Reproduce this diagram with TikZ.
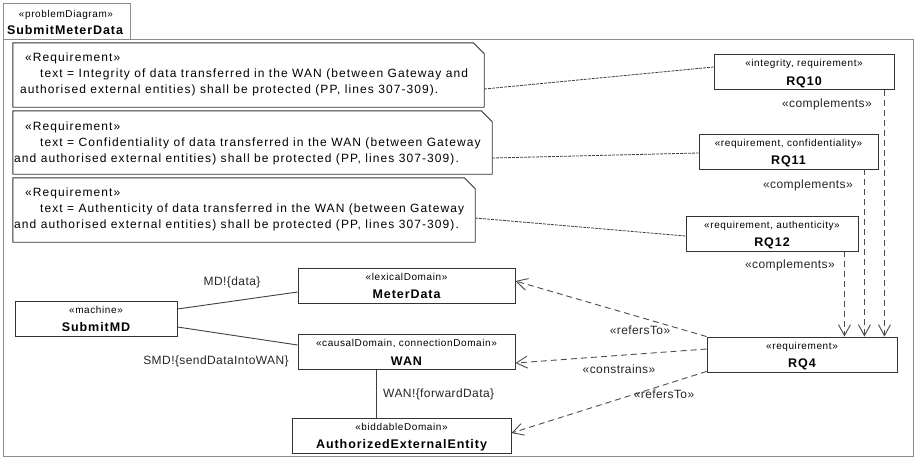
\documentclass[tikz,border=0pt]{standalone}
\usepackage{fontspec}
\setmainfont{Liberation Sans}
\usetikzlibrary{arrows.meta,calc}
\newfontfamily\notefont[LetterSpace=9]{Liberation Sans}
\newfontfamily\lblfont[LetterSpace=3.5]{Liberation Sans}
\newfontfamily\stfont[LetterSpace=6]{Liberation Sans}
\newfontfamily\nmfont[LetterSpace=7.5]{Liberation Sans}

\tikzset{
  box/.style={draw=black!80, line width=0.9pt, fill=white, inner sep=0pt, minimum height=35pt},
  stereo/.style={font=\stfont\fontsize{10}{12}\selectfont, inner sep=0pt, anchor=base},
  bname/.style={font=\nmfont\bfseries\fontsize{12.5}{14}\selectfont, inner sep=0pt, anchor=base},
  notebody/.style={inner sep=0pt},
  notefold/.style={draw=black!80, line width=0.9pt, fill=white},
  ntext/.style={font=\notefont\fontsize{12}{14}\selectfont, anchor=base west, inner sep=0pt},
  lbl/.style={font=\lblfont\fontsize{12}{14}\selectfont, inner sep=0pt, text=black!85},
  assoc/.style={draw=black!75, line width=0.9pt},
  dep/.style={draw=black!70, line width=0.9pt, dash pattern=on 6pt off 4pt,
    -{Straight Barb[length=11pt,width=12pt,line width=0.9pt]}},
  trace/.style={draw=black!75, line width=0.8pt, dash pattern=on 3pt off 1pt},
  framebox/.style={draw=black!45, line width=1pt}
}

% box with a stereotype line and a bold name
\newcommand\umlbox[6]{%
  \node[box, minimum width=#4pt] (#1) at (#2,#3) {};
  \node[stereo] (#1-st) at ([yshift=-12.5pt]#1.north) {#5};
  \node[bname] (#1-nm) at ([yshift=4.5pt]#1.south) {#6};}

% note with a folded top-right corner
\newcommand\notebox[5]{%
  \node[notebody, minimum width=#4pt, minimum height=#5pt] (#1) at (#2,#3) {};
  \draw[notefold] (#1.north west) -- ([xshift=-11pt]#1.north east)
     -- ([yshift=-11pt]#1.north east) -- (#1.south east) -- (#1.south west) -- cycle;}

\begin{document}
\begin{tikzpicture}[x=1pt,y=-1pt]
\useasboundingbox (0,0) rectangle (920,459);
\fill[white] (0,0) rectangle (920,459);

% diagram frame and its name tab
\draw[framebox] (3,39) rectangle (913,456);
\draw[framebox] (3,3) rectangle (130,39);
\node[stereo] (fst) at (66,17) {«problemDiagram»};
\node[bname] (fnm) at (65,34) {SubmitMeterData};

% requirement notes
\notebox{note1}{248.5}{75}{471}{64}
\node[ntext] (n1a) at (25,61.5) {«Requirement»};
\node[ntext] (n1b) at (40,77.5) {text = Integrity of data transferred in the WAN (between Gateway and};
\node[ntext] (n1c) at (20,93.5) {authorised external entities) shall be protected (PP, lines 307-309).};

\notebox{note2}{252.5}{142.5}{479}{63}
\node[ntext] (n2a) at (25,130) {«Requirement»};
\node[ntext] (n2b) at (40,146) {text = Confidentiality of data transferred in the WAN (between Gateway};
\node[ntext] (n2c) at (14,162.5) {and authorised external entities) shall be protected (PP, lines 307-309).};

\notebox{note3}{244}{210}{462}{64}
\node[ntext] (n3a) at (25,196) {«Requirement»};
\node[ntext] (n3b) at (40,212) {text = Authenticity of data transferred in the WAN (between Gateway};
\node[ntext] (n3c) at (14,228.5) {and authorised external entities) shall be protected (PP, lines 307-309).};

% requirements
\umlbox{rq10}{804}{72}{180}{«integrity, requirement»}{RQ10}
\umlbox{rq11}{788.5}{151.5}{179}{«requirement, confidentiality»}{RQ11}
\umlbox{rq12}{772}{233.5}{172}{«requirement, authenticity»}{RQ12}
\umlbox{rq4}{802}{354.5}{190}{«requirement»}{RQ4}

% domains and machine
\umlbox{md}{406.5}{285.5}{217}{«lexicalDomain»}{MeterData}
\umlbox{wan}{406.5}{352}{217}{«causalDomain, connectionDomain»}{WAN}
\umlbox{aee}{401.5}{435.5}{219}{«biddableDomain»}{AuthorizedExternalEntity}
\umlbox{smd}{96}{318.5}{162}{«machine»}{SubmitMD}

% traces from notes to requirements
\draw[trace] ([yshift=-14pt]note1.east) -- ([yshift=5pt]rq10.west);
\draw[trace] ([yshift=-15.5pt]note2.east) -- ([yshift=-1.5pt]rq11.west);
\draw[trace] ([yshift=-8pt]note3.east) -- ([yshift=-2.5pt]rq12.west);

% complements dependencies
\draw[dep] ([xshift=-10pt]rq10.south east) -- ([xshift=-10pt]rq10.south east |- rq4.north);
\draw[dep] ([xshift=-14pt]rq11.south east) -- ([xshift=-14pt]rq11.south east |- rq4.north);
\draw[dep] ([xshift=-14pt]rq12.south east) -- ([xshift=-14pt]rq12.south east |- rq4.north);
\node[lbl, anchor=east] (c1) at (872,104) {«complements»};
\node[lbl, anchor=east] (c2) at (853,185) {«complements»};
\node[lbl, anchor=east] (c3) at (835,265) {«complements»};

% interfaces
\draw[assoc] ([yshift=9.5pt]smd.east) -- ([yshift=-6.5pt]md.west);
\draw[assoc] ([yshift=-8.5pt]smd.east) -- ([yshift=7pt]wan.west);
\draw[assoc] ([xshift=-30.5pt]wan.south) -- ([xshift=-30.5pt]wan.south |- aee.north);
\node[lbl] (l1) at (232,282) {MD!\{data\}};
\node[lbl] (l2) at (216,361) {SMD!\{sendDataIntoWAN\}};
\node[lbl, anchor=west] (l3) at (383,394) {WAN!\{forwardData\}};

% requirement references
\draw[dep] (rq4.north west) -- ([yshift=4.5pt]md.east);
\draw[dep] ([yshift=5.5pt]rq4.west) -- ([yshift=-11pt]wan.east);
\draw[dep] ([yshift=1pt]rq4.south west) -- ([yshift=2.5pt]aee.east);
\node[lbl] (r1) at (640,330) {«refersTo»};
\node[lbl] (r2) at (619,369) {«constrains»};
\node[lbl] (r3) at (664,394) {«refersTo»};
\end{tikzpicture}
\end{document}
